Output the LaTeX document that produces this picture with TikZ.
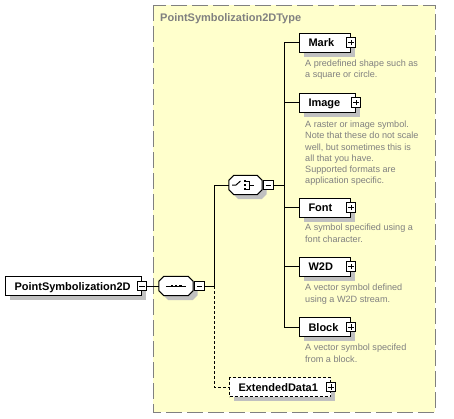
\documentclass[tikz,border=0pt]{standalone}
\usepackage{fontspec}
\setmainfont{Liberation Sans}
\usetikzlibrary{shadows}
\definecolor{bgyellow}{RGB}{255,255,204}
\definecolor{framegray}{RGB}{128,128,128}
\definecolor{shadowgray}{RGB}{192,192,192}
\definecolor{descgray}{RGB}{128,128,128}
\newcommand\octpath[3]{([shift={(5+#2,#3)}]#1.north west) -- ([shift={(-5+#2,#3)}]#1.north east)
  -- ([shift={(#2,5+#3)}]#1.north east) -- ([shift={(#2,-5+#3)}]#1.south east)
  -- ([shift={(-5+#2,#3)}]#1.south east) -- ([shift={(5+#2,#3)}]#1.south west)
  -- ([shift={(#2,-5+#3)}]#1.south west) -- ([shift={(#2,5+#3)}]#1.north west) -- cycle}
\tikzset{
  conn/.style={draw=black, line width=1pt},
  dconn/.style={conn, dash pattern=on 3pt off 2pt},
  shad/.style={general shadow={shadow xshift=4.5pt, shadow yshift=-4.5pt, fill=shadowgray, draw=none}},
  elem/.style={draw=black, fill=white, line width=1pt, rectangle, minimum height=19pt,
    inner xsep=9pt, inner ysep=0pt, align=left, anchor=west, shad,
    font=\fontsize{11}{12}\selectfont\bfseries, text height=8pt, text depth=0pt},
  optelem/.style={elem, dash pattern=on 3pt off 2pt},
  octo/.style={rectangle, minimum width=34pt, minimum height=19pt, inner sep=0pt},
  octline/.style={draw=black, fill=white, line width=1pt},
  octshad/.style={fill=shadowgray},
  pmbox/.style={draw=black, fill=white, line width=0.8pt, minimum size=9.5pt, inner sep=0pt},
  minusbox/.style={pmbox, path picture={
    \draw[line width=0.8pt] ([xshift=2pt]path picture bounding box.west) -- ([xshift=-2pt]path picture bounding box.east);}},
  plusbox/.style={pmbox, path picture={
    \draw[line width=0.8pt] ([xshift=2pt]path picture bounding box.west) -- ([xshift=-2pt]path picture bounding box.east);
    \draw[line width=0.8pt] ([yshift=2pt]path picture bounding box.south) -- ([yshift=-2pt]path picture bounding box.north);}},
  desc/.style={anchor=north west, inner sep=0pt, align=left, text=descgray,
    font=\fontsize{9.1}{11.2}\selectfont},
  title/.style={anchor=west, inner sep=0pt, text=framegray, font=\fontsize{11}{12}\selectfont\bfseries},
  frame/.style={draw=framegray, fill=bgyellow, line width=1pt, dash pattern=on 16pt off 5pt},
}
\begin{document}
\begin{tikzpicture}[x=1pt,y=-1pt]
\useasboundingbox (0,0) rectangle (454,418);
% frame
\path[frame] (153,5) rectangle (435,412);
\node[title] (ttl) at (160,19) {PointSymbolization2DType};

% root
\node[elem, text width=118pt] (root) at (5,286) {PointSymbolization2D};
\node[minusbox] (rootpm) at (root.east) {};

% sequence
\node[octo] (seq) at (176,286) {};
\path[octshad] \octpath{seq}{4.5}{4.5};
\path[octline] \octpath{seq}{0}{0};
\node[minusbox, anchor=west] (seqpm) at ([xshift=1pt]seq.east) {};
\draw[line width=1pt] ([xshift=7pt]seq.west) -- ([xshift=-7pt]seq.east);
\fill (170.5,284.6) rectangle +(2.8,2.8);
\fill (174.6,284.6) rectangle +(2.8,2.8);
\fill (178.7,284.6) rectangle +(2.8,2.8);

% choice
\node[octo, minimum width=33pt] (choice) at (245.5,185) {};
\path[octshad] \octpath{choice}{4.5}{4.5};
\path[octline] \octpath{choice}{0}{0};
\node[minusbox, anchor=west] (chpm) at ([xshift=1pt]choice.east) {};
\draw[line width=1pt] (232,185) -- (236,185) -- (240.5,181);
\fill (243.5,180) rectangle +(2.4,2.4);
\fill (243.5,184) rectangle +(2.4,2.4);
\fill (243.5,188) rectangle +(2.4,2.4);
\draw[line width=1pt] (246,181) -- (249,181) -- (249,189.5) -- (246,189.5);
\draw[line width=1pt] (249,185) -- (254,185);

% children
\node[elem, text width=33pt] (mark) at (299,42.5) {Mark};
\node[plusbox] (markpm) at (mark.east) {};
\node[elem, text width=38pt] (image) at (299,102.5) {Image};
\node[plusbox] (imagepm) at (image.east) {};
\node[elem, text width=33pt] (font) at (299,207.5) {Font};
\node[plusbox] (fontpm) at (font.east) {};
\node[elem, text width=33pt] (w2d) at (299,266.5) {W2D};
\node[plusbox] (w2dpm) at (w2d.east) {};
\node[elem, text width=33pt] (block) at (299,327) {Block};
\node[plusbox] (blockpm) at (block.east) {};
\node[optelem, text width=83pt] (ext) at (229,387) {ExtendedData1};
\node[plusbox] (extpm) at (ext.east) {};

% descriptions
\node[desc] (markd) at (305,60) {A predefined shape such as\\a square or circle.};
\node[desc] (imaged) at (305,121) {A raster or image symbol.\\Note that these do not scale\\well, but sometimes this is\\all that you have.\\Supported formats are\\application specific.};
\node[desc] (fontd) at (305,224) {A symbol specified using a\\font character.};
\node[desc] (w2dd) at (305,284) {A vector symbol defined\\using a W2D stream.};
\node[desc] (blockd) at (305,344) {A vector symbol specifed\\from a block.};

% connectors
\coordinate (st) at (214,286);
\coordinate (ct) at (284,185);
\draw[conn] (rootpm.east) -- (seq.west);
\draw[conn] (seqpm.east) -- (st) |- (choice.west);
\draw[dconn] (st) |- (ext.west);
\draw[conn] (chpm.east) -- (ct);
\foreach \n in {mark,image,font,w2d,block} {\draw[conn] (ct) |- (\n.west);}
\end{tikzpicture}
\end{document}
